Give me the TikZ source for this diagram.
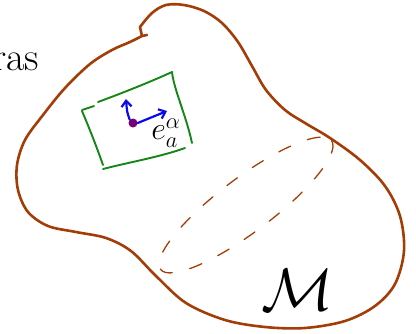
\RequirePackage{fix-cm}
\documentclass[tikz,border=0pt]{standalone}
\usepackage{amsmath}
\usepackage{amssymb}
\usepackage{xcolor}
\usetikzlibrary{arrows.meta,positioning,calc}
\definecolor{rust}{RGB}{163,61,8}
\definecolor{patchgreen}{RGB}{22,134,22}
\definecolor{vecblue}{RGB}{10,10,235}
\definecolor{pointpurple}{RGB}{120,0,120}

\begin{document}
\begin{tikzpicture}[x=1pt,y=-1pt,
  outline/.style={draw=rust,line width=2.6pt,line cap=round,line join=round},
  slice/.style={draw=rust,line width=1.3pt,line cap=round,
                dash pattern=on 13pt off 18pt},
  patch/.style={draw=patchgreen,line width=1.9pt,line cap=round},
  vec/.style={-{Straight Barb[length=6pt,width=10pt]},draw=vecblue,
              line width=2.2pt,line cap=round},
  dot/.style={circle,fill=pointpurple,inner sep=0pt,minimum size=9pt},
  lbl/.style={text=black,inner sep=0pt}
]
\useasboundingbox (0,0) rectangle (416,333);

% manifold
\draw[outline] (142,36) -- plot[smooth,tension=0.55] coordinates {
  (140,27) (152,13) (166,5) (184,5) (204,11) (222,23)
  (238,42) (252,66) (266,90) (285,110) (305,123) (330,138)
  (360,160) (385,186) (400,216) (404,251) (395,284) (375,306)
  (345,321) (305,328) (265,327) (225,320) (186,303) (156,276)
  (131,251) (106,238) (76,232) (48,226) (28,212) (18,190)
  (17,165) (25,140) (43,115) (65,88) (90,64) (112,50) (130,42) (142,36)};
\draw[outline] (142,36) -- (147,35);

% hidden slice
\draw[slice,rotate around={37:(246,205)}] (246,205) ellipse (107 and 27);

% coordinate patch
\draw[patch] (98,102) .. controls (125,92) and (150,82) .. (172,72);
\draw[patch] (82,110) -- (94,106);
\draw[patch] (82,111) .. controls (88,125) and (96,145) .. (103,165);
\draw[patch] (172,72) .. controls (174,90) and (186,115) .. (192,143);
\draw[patch] (103,169) .. controls (130,162) and (160,157) .. (185,148);

% point and frame vectors
\node[dot] (p) at (133,123) {};
\coordinate (up) at (126,99);
\coordinate (rt) at (167,111);
\draw[vec] (p.north west) .. controls (127,112) .. (up);
\draw[vec] (p.east) -- (rt);

\node[lbl,font=\fontsize{32}{32}\selectfont] (ea) at (166,133) {$e^{\alpha}_{a}$};
\node[lbl,font=\fontsize{60}{60}\selectfont] (man) at (298,290) {$\mathcal{M}$};
\node[lbl,font=\fontsize{40}{40}\selectfont,anchor=base west] (ras) at (-8,70) {ras};
\end{tikzpicture}
\end{document}
